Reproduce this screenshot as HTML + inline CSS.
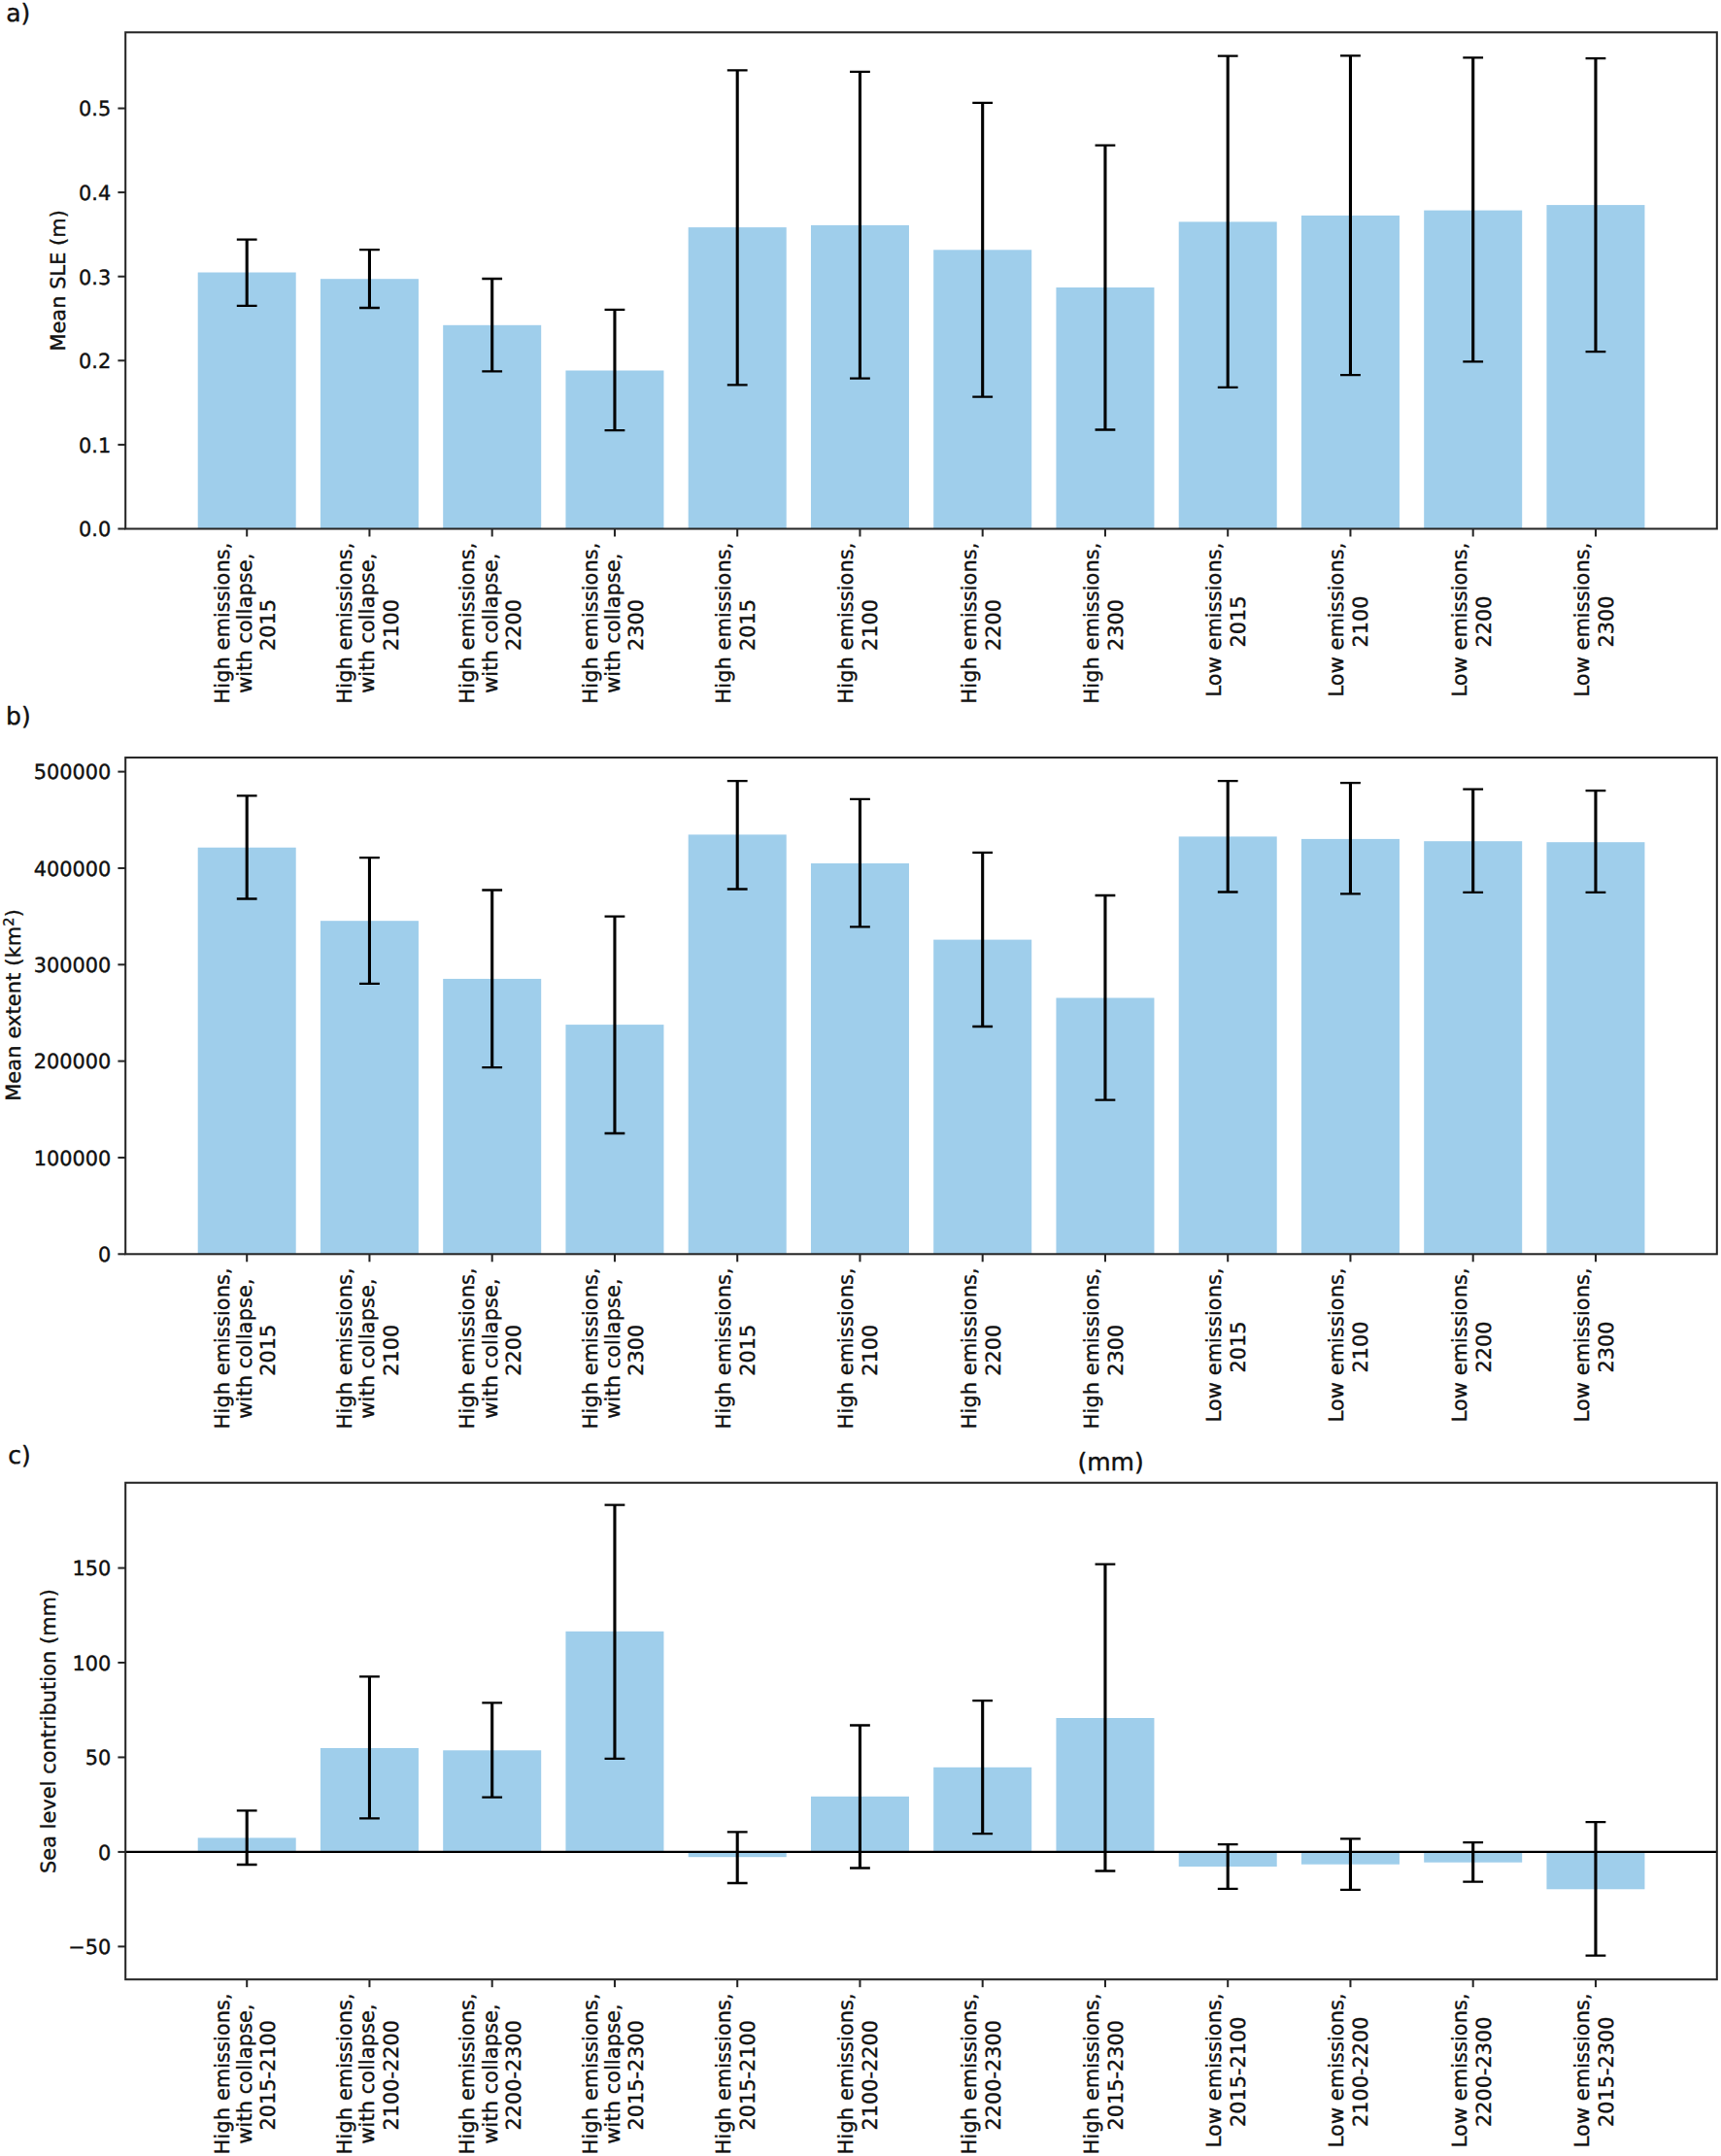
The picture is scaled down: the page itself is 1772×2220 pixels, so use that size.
<!DOCTYPE html>
<html lang="en"><head><meta charset="utf-8"><title>Figure</title>
<style>html,body{margin:0;padding:0;background:#fff}svg{display:block}text{text-rendering:geometricPrecision;font-family:"DejaVu Sans","Liberation Sans",sans-serif;fill:#111;stroke:#111;stroke-width:0.4px}.t{font-size:20.83px}.T{font-size:25px}</style></head><body>
<svg width="1772" height="2220" viewBox="0 0 1772 2220">
<rect width="1772" height="2220" fill="#fff"/>
<g>
<rect x="203.7" y="280.5" width="101" height="264" fill="#9fceeb"/>
<rect x="329.95" y="287.2" width="101" height="257.3" fill="#9fceeb"/>
<rect x="456.2" y="334.8" width="101" height="209.7" fill="#9fceeb"/>
<rect x="582.45" y="381.5" width="101" height="163" fill="#9fceeb"/>
<rect x="708.7" y="234.1" width="101" height="310.4" fill="#9fceeb"/>
<rect x="834.95" y="231.9" width="101" height="312.6" fill="#9fceeb"/>
<rect x="961.2" y="257.3" width="101" height="287.2" fill="#9fceeb"/>
<rect x="1087.45" y="296" width="101" height="248.5" fill="#9fceeb"/>
<rect x="1213.7" y="228.4" width="101" height="316.1" fill="#9fceeb"/>
<rect x="1339.95" y="221.9" width="101" height="322.6" fill="#9fceeb"/>
<rect x="1466.2" y="216.6" width="101" height="327.9" fill="#9fceeb"/>
<rect x="1592.45" y="211.1" width="101" height="333.4" fill="#9fceeb"/>
<path d="M254.2 246.6V314.8" stroke="#000" stroke-width="3.1" fill="none"/>
<path d="M243.8 246.6H264.6M243.8 314.8H264.6" stroke="#000" stroke-width="2.3" fill="none"/>
<path d="M380.45 257.2V317" stroke="#000" stroke-width="3.1" fill="none"/>
<path d="M370.05 257.2H390.85M370.05 317H390.85" stroke="#000" stroke-width="2.3" fill="none"/>
<path d="M506.7 287V382.4" stroke="#000" stroke-width="3.1" fill="none"/>
<path d="M496.3 287H517.1M496.3 382.4H517.1" stroke="#000" stroke-width="2.3" fill="none"/>
<path d="M632.95 318.8V443.2" stroke="#000" stroke-width="3.1" fill="none"/>
<path d="M622.55 318.8H643.35M622.55 443.2H643.35" stroke="#000" stroke-width="2.3" fill="none"/>
<path d="M759.2 72.3V396.4" stroke="#000" stroke-width="3.1" fill="none"/>
<path d="M748.8 72.3H769.6M748.8 396.4H769.6" stroke="#000" stroke-width="2.3" fill="none"/>
<path d="M885.45 73.8V389.6" stroke="#000" stroke-width="3.1" fill="none"/>
<path d="M875.05 73.8H895.85M875.05 389.6H895.85" stroke="#000" stroke-width="2.3" fill="none"/>
<path d="M1011.7 105.9V408.7" stroke="#000" stroke-width="3.1" fill="none"/>
<path d="M1001.3 105.9H1022.1M1001.3 408.7H1022.1" stroke="#000" stroke-width="2.3" fill="none"/>
<path d="M1137.95 149.7V442.5" stroke="#000" stroke-width="3.1" fill="none"/>
<path d="M1127.55 149.7H1148.35M1127.55 442.5H1148.35" stroke="#000" stroke-width="2.3" fill="none"/>
<path d="M1264.2 57.6V398.9" stroke="#000" stroke-width="3.1" fill="none"/>
<path d="M1253.8 57.6H1274.6M1253.8 398.9H1274.6" stroke="#000" stroke-width="2.3" fill="none"/>
<path d="M1390.45 57.3V386.1" stroke="#000" stroke-width="3.1" fill="none"/>
<path d="M1380.05 57.3H1400.85M1380.05 386.1H1400.85" stroke="#000" stroke-width="2.3" fill="none"/>
<path d="M1516.7 59.3V372.4" stroke="#000" stroke-width="3.1" fill="none"/>
<path d="M1506.3 59.3H1527.1M1506.3 372.4H1527.1" stroke="#000" stroke-width="2.3" fill="none"/>
<path d="M1642.95 60.1V362.1" stroke="#000" stroke-width="3.1" fill="none"/>
<path d="M1632.55 60.1H1653.35M1632.55 362.1H1653.35" stroke="#000" stroke-width="2.3" fill="none"/>
<line x1="254.2" x2="254.2" y1="544.5" y2="552.5" stroke="#262626" stroke-width="2.05"/>
<line x1="380.45" x2="380.45" y1="544.5" y2="552.5" stroke="#262626" stroke-width="2.05"/>
<line x1="506.7" x2="506.7" y1="544.5" y2="552.5" stroke="#262626" stroke-width="2.05"/>
<line x1="632.95" x2="632.95" y1="544.5" y2="552.5" stroke="#262626" stroke-width="2.05"/>
<line x1="759.2" x2="759.2" y1="544.5" y2="552.5" stroke="#262626" stroke-width="2.05"/>
<line x1="885.45" x2="885.45" y1="544.5" y2="552.5" stroke="#262626" stroke-width="2.05"/>
<line x1="1011.7" x2="1011.7" y1="544.5" y2="552.5" stroke="#262626" stroke-width="2.05"/>
<line x1="1137.95" x2="1137.95" y1="544.5" y2="552.5" stroke="#262626" stroke-width="2.05"/>
<line x1="1264.2" x2="1264.2" y1="544.5" y2="552.5" stroke="#262626" stroke-width="2.05"/>
<line x1="1390.45" x2="1390.45" y1="544.5" y2="552.5" stroke="#262626" stroke-width="2.05"/>
<line x1="1516.7" x2="1516.7" y1="544.5" y2="552.5" stroke="#262626" stroke-width="2.05"/>
<line x1="1642.95" x2="1642.95" y1="544.5" y2="552.5" stroke="#262626" stroke-width="2.05"/>
<line x1="121.4" x2="129.2" y1="544.5" y2="544.5" stroke="#262626" stroke-width="2.05"/>
<text class="t" x="114.2" y="552.3" text-anchor="end">0.0</text>
<line x1="121.4" x2="129.2" y1="457.9" y2="457.9" stroke="#262626" stroke-width="2.05"/>
<text class="t" x="114.2" y="465.7" text-anchor="end">0.1</text>
<line x1="121.4" x2="129.2" y1="371.3" y2="371.3" stroke="#262626" stroke-width="2.05"/>
<text class="t" x="114.2" y="379.1" text-anchor="end">0.2</text>
<line x1="121.4" x2="129.2" y1="284.7" y2="284.7" stroke="#262626" stroke-width="2.05"/>
<text class="t" x="114.2" y="292.5" text-anchor="end">0.3</text>
<line x1="121.4" x2="129.2" y1="198.1" y2="198.1" stroke="#262626" stroke-width="2.05"/>
<text class="t" x="114.2" y="205.9" text-anchor="end">0.4</text>
<line x1="121.4" x2="129.2" y1="111.55" y2="111.55" stroke="#262626" stroke-width="2.05"/>
<text class="t" x="114.2" y="119.35" text-anchor="end">0.5</text>
<rect x="129.2" y="33.3" width="1638.6" height="511.2" fill="none" stroke="#262626" stroke-width="2.05"/>
<text class="t" transform="translate(67.35 288.9) rotate(-90)" text-anchor="middle" textLength="145.37">Mean SLE (m)</text>
<text class="T" x="6.2" y="22.35">a)</text>
<text class="t" transform="translate(235.8 641.55) rotate(-90)" text-anchor="middle" textLength="165.81">High emissions,</text>
<text class="t" transform="translate(259.15 641.75) rotate(-90)" text-anchor="middle" textLength="144.17">with collapse,</text>
<text class="t" transform="translate(283.4 643.55) rotate(-90)" text-anchor="middle">2015</text>
<text class="t" transform="translate(362.05 641.55) rotate(-90)" text-anchor="middle" textLength="165.81">High emissions,</text>
<text class="t" transform="translate(385.4 641.75) rotate(-90)" text-anchor="middle" textLength="144.17">with collapse,</text>
<text class="t" transform="translate(409.65 643.55) rotate(-90)" text-anchor="middle">2100</text>
<text class="t" transform="translate(488.3 641.55) rotate(-90)" text-anchor="middle" textLength="165.81">High emissions,</text>
<text class="t" transform="translate(511.65 641.75) rotate(-90)" text-anchor="middle" textLength="144.17">with collapse,</text>
<text class="t" transform="translate(535.9 643.55) rotate(-90)" text-anchor="middle">2200</text>
<text class="t" transform="translate(614.55 641.55) rotate(-90)" text-anchor="middle" textLength="165.81">High emissions,</text>
<text class="t" transform="translate(637.9 641.75) rotate(-90)" text-anchor="middle" textLength="144.17">with collapse,</text>
<text class="t" transform="translate(662.15 643.55) rotate(-90)" text-anchor="middle">2300</text>
<text class="t" transform="translate(752.2 641.55) rotate(-90)" text-anchor="middle" textLength="165.81">High emissions,</text>
<text class="t" transform="translate(777.1 643.55) rotate(-90)" text-anchor="middle">2015</text>
<text class="t" transform="translate(878.45 641.55) rotate(-90)" text-anchor="middle" textLength="165.81">High emissions,</text>
<text class="t" transform="translate(903.35 643.55) rotate(-90)" text-anchor="middle">2100</text>
<text class="t" transform="translate(1004.7 641.55) rotate(-90)" text-anchor="middle" textLength="165.81">High emissions,</text>
<text class="t" transform="translate(1029.6 643.55) rotate(-90)" text-anchor="middle">2200</text>
<text class="t" transform="translate(1130.95 641.55) rotate(-90)" text-anchor="middle" textLength="165.81">High emissions,</text>
<text class="t" transform="translate(1155.85 643.55) rotate(-90)" text-anchor="middle">2300</text>
<text class="t" transform="translate(1257.2 638.12) rotate(-90)" text-anchor="middle" textLength="158.89">Low emissions,</text>
<text class="t" transform="translate(1282.1 640.12) rotate(-90)" text-anchor="middle">2015</text>
<text class="t" transform="translate(1383.45 638.12) rotate(-90)" text-anchor="middle" textLength="158.89">Low emissions,</text>
<text class="t" transform="translate(1408.35 640.12) rotate(-90)" text-anchor="middle">2100</text>
<text class="t" transform="translate(1509.7 638.12) rotate(-90)" text-anchor="middle" textLength="158.89">Low emissions,</text>
<text class="t" transform="translate(1534.6 640.12) rotate(-90)" text-anchor="middle">2200</text>
<text class="t" transform="translate(1635.95 638.12) rotate(-90)" text-anchor="middle" textLength="158.89">Low emissions,</text>
<text class="t" transform="translate(1660.85 640.12) rotate(-90)" text-anchor="middle">2300</text>
</g>
<g>
<rect x="203.7" y="872.7" width="101" height="418.6" fill="#9fceeb"/>
<rect x="329.95" y="948.2" width="101" height="343.1" fill="#9fceeb"/>
<rect x="456.2" y="1007.9" width="101" height="283.4" fill="#9fceeb"/>
<rect x="582.45" y="1055.1" width="101" height="236.2" fill="#9fceeb"/>
<rect x="708.7" y="859.4" width="101" height="431.9" fill="#9fceeb"/>
<rect x="834.95" y="889" width="101" height="402.3" fill="#9fceeb"/>
<rect x="961.2" y="967.6" width="101" height="323.7" fill="#9fceeb"/>
<rect x="1087.45" y="1027.5" width="101" height="263.8" fill="#9fceeb"/>
<rect x="1213.7" y="861.4" width="101" height="429.9" fill="#9fceeb"/>
<rect x="1339.95" y="863.9" width="101" height="427.4" fill="#9fceeb"/>
<rect x="1466.2" y="866.2" width="101" height="425.1" fill="#9fceeb"/>
<rect x="1592.45" y="867.2" width="101" height="424.1" fill="#9fceeb"/>
<path d="M254.2 819.3V925.5" stroke="#000" stroke-width="3.1" fill="none"/>
<path d="M243.8 819.3H264.6M243.8 925.5H264.6" stroke="#000" stroke-width="2.3" fill="none"/>
<path d="M380.45 883.2V1012.9" stroke="#000" stroke-width="3.1" fill="none"/>
<path d="M370.05 883.2H390.85M370.05 1012.9H390.85" stroke="#000" stroke-width="2.3" fill="none"/>
<path d="M506.7 916.5V1099.1" stroke="#000" stroke-width="3.1" fill="none"/>
<path d="M496.3 916.5H517.1M496.3 1099.1H517.1" stroke="#000" stroke-width="2.3" fill="none"/>
<path d="M632.95 943.6V1167" stroke="#000" stroke-width="3.1" fill="none"/>
<path d="M622.55 943.6H643.35M622.55 1167H643.35" stroke="#000" stroke-width="2.3" fill="none"/>
<path d="M759.2 804.1V915.5" stroke="#000" stroke-width="3.1" fill="none"/>
<path d="M748.8 804.1H769.6M748.8 915.5H769.6" stroke="#000" stroke-width="2.3" fill="none"/>
<path d="M885.45 822.9V954.3" stroke="#000" stroke-width="3.1" fill="none"/>
<path d="M875.05 822.9H895.85M875.05 954.3H895.85" stroke="#000" stroke-width="2.3" fill="none"/>
<path d="M1011.7 877.9V1057" stroke="#000" stroke-width="3.1" fill="none"/>
<path d="M1001.3 877.9H1022.1M1001.3 1057H1022.1" stroke="#000" stroke-width="2.3" fill="none"/>
<path d="M1137.95 922V1132.6" stroke="#000" stroke-width="3.1" fill="none"/>
<path d="M1127.55 922H1148.35M1127.55 1132.6H1148.35" stroke="#000" stroke-width="2.3" fill="none"/>
<path d="M1264.2 804.1V918.5" stroke="#000" stroke-width="3.1" fill="none"/>
<path d="M1253.8 804.1H1274.6M1253.8 918.5H1274.6" stroke="#000" stroke-width="2.3" fill="none"/>
<path d="M1390.45 806.1V920.3" stroke="#000" stroke-width="3.1" fill="none"/>
<path d="M1380.05 806.1H1400.85M1380.05 920.3H1400.85" stroke="#000" stroke-width="2.3" fill="none"/>
<path d="M1516.7 812.6V918.8" stroke="#000" stroke-width="3.1" fill="none"/>
<path d="M1506.3 812.6H1527.1M1506.3 918.8H1527.1" stroke="#000" stroke-width="2.3" fill="none"/>
<path d="M1642.95 814.1V918.8" stroke="#000" stroke-width="3.1" fill="none"/>
<path d="M1632.55 814.1H1653.35M1632.55 918.8H1653.35" stroke="#000" stroke-width="2.3" fill="none"/>
<line x1="254.2" x2="254.2" y1="1291.3" y2="1299.3" stroke="#262626" stroke-width="2.05"/>
<line x1="380.45" x2="380.45" y1="1291.3" y2="1299.3" stroke="#262626" stroke-width="2.05"/>
<line x1="506.7" x2="506.7" y1="1291.3" y2="1299.3" stroke="#262626" stroke-width="2.05"/>
<line x1="632.95" x2="632.95" y1="1291.3" y2="1299.3" stroke="#262626" stroke-width="2.05"/>
<line x1="759.2" x2="759.2" y1="1291.3" y2="1299.3" stroke="#262626" stroke-width="2.05"/>
<line x1="885.45" x2="885.45" y1="1291.3" y2="1299.3" stroke="#262626" stroke-width="2.05"/>
<line x1="1011.7" x2="1011.7" y1="1291.3" y2="1299.3" stroke="#262626" stroke-width="2.05"/>
<line x1="1137.95" x2="1137.95" y1="1291.3" y2="1299.3" stroke="#262626" stroke-width="2.05"/>
<line x1="1264.2" x2="1264.2" y1="1291.3" y2="1299.3" stroke="#262626" stroke-width="2.05"/>
<line x1="1390.45" x2="1390.45" y1="1291.3" y2="1299.3" stroke="#262626" stroke-width="2.05"/>
<line x1="1516.7" x2="1516.7" y1="1291.3" y2="1299.3" stroke="#262626" stroke-width="2.05"/>
<line x1="1642.95" x2="1642.95" y1="1291.3" y2="1299.3" stroke="#262626" stroke-width="2.05"/>
<line x1="121.4" x2="129.2" y1="1291.3" y2="1291.3" stroke="#262626" stroke-width="2.05"/>
<text class="t" x="114.2" y="1299.1" text-anchor="end">0</text>
<line x1="121.4" x2="129.2" y1="1191.96" y2="1191.96" stroke="#262626" stroke-width="2.05"/>
<text class="t" x="114.2" y="1199.76" text-anchor="end">100000</text>
<line x1="121.4" x2="129.2" y1="1092.62" y2="1092.62" stroke="#262626" stroke-width="2.05"/>
<text class="t" x="114.2" y="1100.42" text-anchor="end">200000</text>
<line x1="121.4" x2="129.2" y1="993.28" y2="993.28" stroke="#262626" stroke-width="2.05"/>
<text class="t" x="114.2" y="1001.08" text-anchor="end">300000</text>
<line x1="121.4" x2="129.2" y1="893.94" y2="893.94" stroke="#262626" stroke-width="2.05"/>
<text class="t" x="114.2" y="901.74" text-anchor="end">400000</text>
<line x1="121.4" x2="129.2" y1="794.6" y2="794.6" stroke="#262626" stroke-width="2.05"/>
<text class="t" x="114.2" y="802.4" text-anchor="end">500000</text>
<rect x="129.2" y="780.05" width="1638.6" height="511.25" fill="none" stroke="#262626" stroke-width="2.05"/>
<text class="t" transform="translate(21.3 1034.97) rotate(-90)" text-anchor="middle" textLength="197.61">Mean extent (km<tspan font-size="14.58px" dy="-7.8">2</tspan><tspan dy="7.8">)</tspan></text>
<text class="T" x="6.1" y="746.25">b)</text>
<text class="t" transform="translate(235.8 1388.35) rotate(-90)" text-anchor="middle" textLength="165.81">High emissions,</text>
<text class="t" transform="translate(259.15 1388.55) rotate(-90)" text-anchor="middle" textLength="144.17">with collapse,</text>
<text class="t" transform="translate(283.4 1390.35) rotate(-90)" text-anchor="middle">2015</text>
<text class="t" transform="translate(362.05 1388.35) rotate(-90)" text-anchor="middle" textLength="165.81">High emissions,</text>
<text class="t" transform="translate(385.4 1388.55) rotate(-90)" text-anchor="middle" textLength="144.17">with collapse,</text>
<text class="t" transform="translate(409.65 1390.35) rotate(-90)" text-anchor="middle">2100</text>
<text class="t" transform="translate(488.3 1388.35) rotate(-90)" text-anchor="middle" textLength="165.81">High emissions,</text>
<text class="t" transform="translate(511.65 1388.55) rotate(-90)" text-anchor="middle" textLength="144.17">with collapse,</text>
<text class="t" transform="translate(535.9 1390.35) rotate(-90)" text-anchor="middle">2200</text>
<text class="t" transform="translate(614.55 1388.35) rotate(-90)" text-anchor="middle" textLength="165.81">High emissions,</text>
<text class="t" transform="translate(637.9 1388.55) rotate(-90)" text-anchor="middle" textLength="144.17">with collapse,</text>
<text class="t" transform="translate(662.15 1390.35) rotate(-90)" text-anchor="middle">2300</text>
<text class="t" transform="translate(752.2 1388.35) rotate(-90)" text-anchor="middle" textLength="165.81">High emissions,</text>
<text class="t" transform="translate(777.1 1390.35) rotate(-90)" text-anchor="middle">2015</text>
<text class="t" transform="translate(878.45 1388.35) rotate(-90)" text-anchor="middle" textLength="165.81">High emissions,</text>
<text class="t" transform="translate(903.35 1390.35) rotate(-90)" text-anchor="middle">2100</text>
<text class="t" transform="translate(1004.7 1388.35) rotate(-90)" text-anchor="middle" textLength="165.81">High emissions,</text>
<text class="t" transform="translate(1029.6 1390.35) rotate(-90)" text-anchor="middle">2200</text>
<text class="t" transform="translate(1130.95 1388.35) rotate(-90)" text-anchor="middle" textLength="165.81">High emissions,</text>
<text class="t" transform="translate(1155.85 1390.35) rotate(-90)" text-anchor="middle">2300</text>
<text class="t" transform="translate(1257.2 1384.92) rotate(-90)" text-anchor="middle" textLength="158.89">Low emissions,</text>
<text class="t" transform="translate(1282.1 1386.92) rotate(-90)" text-anchor="middle">2015</text>
<text class="t" transform="translate(1383.45 1384.92) rotate(-90)" text-anchor="middle" textLength="158.89">Low emissions,</text>
<text class="t" transform="translate(1408.35 1386.92) rotate(-90)" text-anchor="middle">2100</text>
<text class="t" transform="translate(1509.7 1384.92) rotate(-90)" text-anchor="middle" textLength="158.89">Low emissions,</text>
<text class="t" transform="translate(1534.6 1386.92) rotate(-90)" text-anchor="middle">2200</text>
<text class="t" transform="translate(1635.95 1384.92) rotate(-90)" text-anchor="middle" textLength="158.89">Low emissions,</text>
<text class="t" transform="translate(1660.85 1386.92) rotate(-90)" text-anchor="middle">2300</text>
</g>
<g>
<rect x="203.7" y="1892.4" width="101" height="14.5" fill="#9fceeb"/>
<rect x="329.95" y="1800" width="101" height="106.9" fill="#9fceeb"/>
<rect x="456.2" y="1802.3" width="101" height="104.6" fill="#9fceeb"/>
<rect x="582.45" y="1679.8" width="101" height="227.1" fill="#9fceeb"/>
<rect x="708.7" y="1906.9" width="101" height="5.3" fill="#9fceeb"/>
<rect x="834.95" y="1849.8" width="101" height="57.1" fill="#9fceeb"/>
<rect x="961.2" y="1819.8" width="101" height="87.1" fill="#9fceeb"/>
<rect x="1087.45" y="1769" width="101" height="137.9" fill="#9fceeb"/>
<rect x="1213.7" y="1906.9" width="101" height="15.1" fill="#9fceeb"/>
<rect x="1339.95" y="1906.9" width="101" height="12.8" fill="#9fceeb"/>
<rect x="1466.2" y="1906.9" width="101" height="10.8" fill="#9fceeb"/>
<rect x="1592.45" y="1906.9" width="101" height="38.4" fill="#9fceeb"/>
<line x1="129.2" x2="1767.8" y1="1906.9" y2="1906.9" stroke="#000" stroke-width="2.2"/>
<path d="M254.2 1864.4V1920" stroke="#000" stroke-width="3.1" fill="none"/>
<path d="M243.8 1864.4H264.6M243.8 1920H264.6" stroke="#000" stroke-width="2.3" fill="none"/>
<path d="M380.45 1726.4V1872.4" stroke="#000" stroke-width="3.1" fill="none"/>
<path d="M370.05 1726.4H390.85M370.05 1872.4H390.85" stroke="#000" stroke-width="2.3" fill="none"/>
<path d="M506.7 1753.4V1850.6" stroke="#000" stroke-width="3.1" fill="none"/>
<path d="M496.3 1753.4H517.1M496.3 1850.6H517.1" stroke="#000" stroke-width="2.3" fill="none"/>
<path d="M632.95 1549.6V1810.8" stroke="#000" stroke-width="3.1" fill="none"/>
<path d="M622.55 1549.6H643.35M622.55 1810.8H643.35" stroke="#000" stroke-width="2.3" fill="none"/>
<path d="M759.2 1886.4V1939" stroke="#000" stroke-width="3.1" fill="none"/>
<path d="M748.8 1886.4H769.6M748.8 1939H769.6" stroke="#000" stroke-width="2.3" fill="none"/>
<path d="M885.45 1776.5V1923.5" stroke="#000" stroke-width="3.1" fill="none"/>
<path d="M875.05 1776.5H895.85M875.05 1923.5H895.85" stroke="#000" stroke-width="2.3" fill="none"/>
<path d="M1011.7 1751.2V1888.2" stroke="#000" stroke-width="3.1" fill="none"/>
<path d="M1001.3 1751.2H1022.1M1001.3 1888.2H1022.1" stroke="#000" stroke-width="2.3" fill="none"/>
<path d="M1137.95 1610.7V1926.5" stroke="#000" stroke-width="3.1" fill="none"/>
<path d="M1127.55 1610.7H1148.35M1127.55 1926.5H1148.35" stroke="#000" stroke-width="2.3" fill="none"/>
<path d="M1264.2 1899.2V1944.8" stroke="#000" stroke-width="3.1" fill="none"/>
<path d="M1253.8 1899.2H1274.6M1253.8 1944.8H1274.6" stroke="#000" stroke-width="2.3" fill="none"/>
<path d="M1390.45 1893.4V1945.8" stroke="#000" stroke-width="3.1" fill="none"/>
<path d="M1380.05 1893.4H1400.85M1380.05 1945.8H1400.85" stroke="#000" stroke-width="2.3" fill="none"/>
<path d="M1516.7 1897.2V1937.7" stroke="#000" stroke-width="3.1" fill="none"/>
<path d="M1506.3 1897.2H1527.1M1506.3 1937.7H1527.1" stroke="#000" stroke-width="2.3" fill="none"/>
<path d="M1642.95 1876.1V2013.6" stroke="#000" stroke-width="3.1" fill="none"/>
<path d="M1632.55 1876.1H1653.35M1632.55 2013.6H1653.35" stroke="#000" stroke-width="2.3" fill="none"/>
<line x1="254.2" x2="254.2" y1="2038.2" y2="2046.2" stroke="#262626" stroke-width="2.05"/>
<line x1="380.45" x2="380.45" y1="2038.2" y2="2046.2" stroke="#262626" stroke-width="2.05"/>
<line x1="506.7" x2="506.7" y1="2038.2" y2="2046.2" stroke="#262626" stroke-width="2.05"/>
<line x1="632.95" x2="632.95" y1="2038.2" y2="2046.2" stroke="#262626" stroke-width="2.05"/>
<line x1="759.2" x2="759.2" y1="2038.2" y2="2046.2" stroke="#262626" stroke-width="2.05"/>
<line x1="885.45" x2="885.45" y1="2038.2" y2="2046.2" stroke="#262626" stroke-width="2.05"/>
<line x1="1011.7" x2="1011.7" y1="2038.2" y2="2046.2" stroke="#262626" stroke-width="2.05"/>
<line x1="1137.95" x2="1137.95" y1="2038.2" y2="2046.2" stroke="#262626" stroke-width="2.05"/>
<line x1="1264.2" x2="1264.2" y1="2038.2" y2="2046.2" stroke="#262626" stroke-width="2.05"/>
<line x1="1390.45" x2="1390.45" y1="2038.2" y2="2046.2" stroke="#262626" stroke-width="2.05"/>
<line x1="1516.7" x2="1516.7" y1="2038.2" y2="2046.2" stroke="#262626" stroke-width="2.05"/>
<line x1="1642.95" x2="1642.95" y1="2038.2" y2="2046.2" stroke="#262626" stroke-width="2.05"/>
<line x1="121.4" x2="129.2" y1="2004.35" y2="2004.35" stroke="#262626" stroke-width="2.05"/>
<text class="t" x="114.2" y="2012.15" text-anchor="end">−50</text>
<line x1="121.4" x2="129.2" y1="1906.9" y2="1906.9" stroke="#262626" stroke-width="2.05"/>
<text class="t" x="114.2" y="1914.7" text-anchor="end">0</text>
<line x1="121.4" x2="129.2" y1="1809.45" y2="1809.45" stroke="#262626" stroke-width="2.05"/>
<text class="t" x="114.2" y="1817.25" text-anchor="end">50</text>
<line x1="121.4" x2="129.2" y1="1712" y2="1712" stroke="#262626" stroke-width="2.05"/>
<text class="t" x="114.2" y="1719.8" text-anchor="end">100</text>
<line x1="121.4" x2="129.2" y1="1614.55" y2="1614.55" stroke="#262626" stroke-width="2.05"/>
<text class="t" x="114.2" y="1622.35" text-anchor="end">150</text>
<rect x="129.2" y="1526.75" width="1638.6" height="511.45" fill="none" stroke="#262626" stroke-width="2.05"/>
<text class="t" transform="translate(57.4 1782.47) rotate(-90)" text-anchor="middle" textLength="292.96">Sea level contribution (mm)</text>
<text class="T" x="8.2" y="1506.9">c)</text>
<text class="t" transform="translate(235.8 2135.25) rotate(-90)" text-anchor="middle" textLength="165.81">High emissions,</text>
<text class="t" transform="translate(259.15 2135.45) rotate(-90)" text-anchor="middle" textLength="144.17">with collapse,</text>
<text class="t" transform="translate(283.4 2136.65) rotate(-90)" text-anchor="middle">2015-2100</text>
<text class="t" transform="translate(362.05 2135.25) rotate(-90)" text-anchor="middle" textLength="165.81">High emissions,</text>
<text class="t" transform="translate(385.4 2135.45) rotate(-90)" text-anchor="middle" textLength="144.17">with collapse,</text>
<text class="t" transform="translate(409.65 2136.65) rotate(-90)" text-anchor="middle">2100-2200</text>
<text class="t" transform="translate(488.3 2135.25) rotate(-90)" text-anchor="middle" textLength="165.81">High emissions,</text>
<text class="t" transform="translate(511.65 2135.45) rotate(-90)" text-anchor="middle" textLength="144.17">with collapse,</text>
<text class="t" transform="translate(535.9 2136.65) rotate(-90)" text-anchor="middle">2200-2300</text>
<text class="t" transform="translate(614.55 2135.25) rotate(-90)" text-anchor="middle" textLength="165.81">High emissions,</text>
<text class="t" transform="translate(637.9 2135.45) rotate(-90)" text-anchor="middle" textLength="144.17">with collapse,</text>
<text class="t" transform="translate(662.15 2136.65) rotate(-90)" text-anchor="middle">2015-2300</text>
<text class="t" transform="translate(752.2 2135.25) rotate(-90)" text-anchor="middle" textLength="165.81">High emissions,</text>
<text class="t" transform="translate(777.1 2136.65) rotate(-90)" text-anchor="middle">2015-2100</text>
<text class="t" transform="translate(878.45 2135.25) rotate(-90)" text-anchor="middle" textLength="165.81">High emissions,</text>
<text class="t" transform="translate(903.35 2136.65) rotate(-90)" text-anchor="middle">2100-2200</text>
<text class="t" transform="translate(1004.7 2135.25) rotate(-90)" text-anchor="middle" textLength="165.81">High emissions,</text>
<text class="t" transform="translate(1029.6 2136.65) rotate(-90)" text-anchor="middle">2200-2300</text>
<text class="t" transform="translate(1130.95 2135.25) rotate(-90)" text-anchor="middle" textLength="165.81">High emissions,</text>
<text class="t" transform="translate(1155.85 2136.65) rotate(-90)" text-anchor="middle">2015-2300</text>
<text class="t" transform="translate(1257.2 2131.82) rotate(-90)" text-anchor="middle" textLength="158.89">Low emissions,</text>
<text class="t" transform="translate(1282.1 2133.22) rotate(-90)" text-anchor="middle">2015-2100</text>
<text class="t" transform="translate(1383.45 2131.82) rotate(-90)" text-anchor="middle" textLength="158.89">Low emissions,</text>
<text class="t" transform="translate(1408.35 2133.22) rotate(-90)" text-anchor="middle">2100-2200</text>
<text class="t" transform="translate(1509.7 2131.82) rotate(-90)" text-anchor="middle" textLength="158.89">Low emissions,</text>
<text class="t" transform="translate(1534.6 2133.22) rotate(-90)" text-anchor="middle">2200-2300</text>
<text class="t" transform="translate(1635.95 2131.82) rotate(-90)" text-anchor="middle" textLength="158.89">Low emissions,</text>
<text class="t" transform="translate(1660.85 2133.22) rotate(-90)" text-anchor="middle">2015-2300</text>
</g>
<text class="T" x="1143.6" y="1513.9" text-anchor="middle">(mm)</text>
</svg></body></html>
